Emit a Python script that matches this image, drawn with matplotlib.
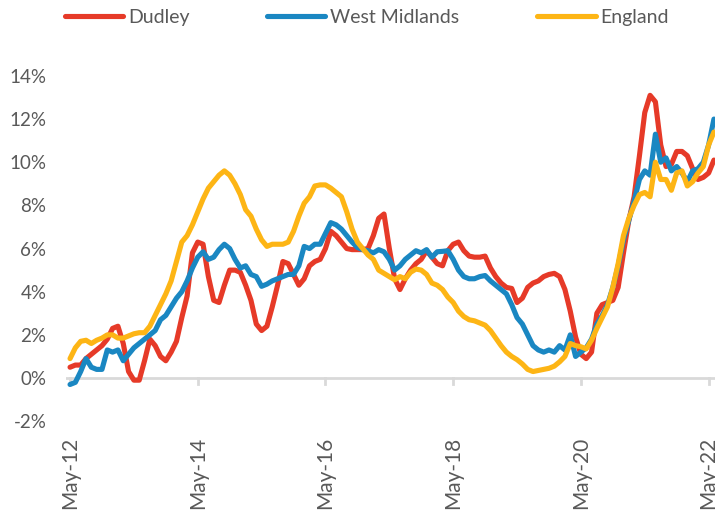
import matplotlib
matplotlib.use("Agg")
import matplotlib.pyplot as plt
import numpy as np

plt.rcParams['font.family'] = ['Lato', 'DejaVu Sans']

tick_labels = ["May-12", "May-14", "May-16", "May-18", "May-20", "May-22"]
series_names = ["Dudley", "West Midlands", "England"]

dudley = [0.5, 0.6, 0.6, 0.9, 1.1, 1.3, 1.5, 1.8, 2.3, 2.4,
          1.6, 0.3, -0.1, -0.1, 0.8, 1.8, 1.5, 1.0, 0.8, 1.2,
          1.7, 2.8, 3.8, 5.8, 6.3, 6.2, 4.7, 3.6, 3.5, 4.3,
          5.0, 5.0, 4.9, 4.3, 3.6, 2.5, 2.2, 2.4, 3.3, 4.3,
          5.4, 5.3, 4.8, 4.3, 4.6, 5.2, 5.4, 5.5, 6.0, 6.8,
          6.6, 6.3, 6.0, 5.95, 5.95, 5.95, 6.0, 6.6, 7.4, 7.6,
          6.0, 4.6, 4.1, 4.6, 5.0, 5.3, 5.5, 5.9, 5.6, 5.3,
          5.2, 5.9, 6.2, 6.3, 5.9, 5.65, 5.6, 5.6, 5.65, 5.1,
          4.7, 4.4, 4.2, 4.15, 3.5, 3.7, 4.2, 4.4, 4.5, 4.7,
          4.8, 4.85, 4.7, 4.1, 3.1, 1.9, 1.1, 0.9, 1.2, 3.0,
          3.4, 3.5, 3.6, 4.2, 5.8, 7.3, 8.4, 10.3, 12.3, 13.1,
          12.8, 10.8, 9.8, 9.9, 10.5, 10.5, 10.3, 9.7, 9.2, 9.3,
          9.5, 10.1]

west_midlands = [-0.3, -0.2, 0.3, 0.9, 0.5, 0.4, 0.4, 1.3, 1.2, 1.3,
                 0.8, 1.1, 1.4, 1.6, 1.8, 2.0, 2.2, 2.7, 2.9, 3.3,
                 3.7, 4.0, 4.5, 5.1, 5.6, 5.85, 5.5, 5.6, 5.95, 6.2,
                 6.0, 5.5, 5.1, 5.2, 4.8, 4.7, 4.25, 4.35, 4.5, 4.6,
                 4.7, 4.8, 4.8, 5.2, 6.1, 6.0, 6.2, 6.2, 6.7, 7.2,
                 7.1, 6.9, 6.6, 6.3, 6.05, 5.95, 5.9, 5.8, 5.95, 5.85,
                 5.5, 5.0, 5.2, 5.5, 5.7, 5.9, 5.8, 5.95, 5.6, 5.85,
                 5.87, 5.9, 5.5, 5.0, 4.7, 4.6, 4.6, 4.7, 4.75, 4.5,
                 4.3, 4.1, 3.9, 3.4, 2.8, 2.5, 2.0, 1.5, 1.3, 1.2,
                 1.3, 1.2, 1.5, 1.3, 2.0, 1.0, 1.2, 1.4, 1.8, 2.5,
                 2.9, 3.4, 4.2, 5.2, 6.4, 7.3, 8.2, 9.2, 9.6, 9.4,
                 11.3, 10.0, 10.2, 9.6, 9.8, 9.5, 9.1, 9.6, 9.7, 10.0,
                 10.8, 12.0]

england = [0.9, 1.4, 1.7, 1.75, 1.6, 1.75, 1.85, 2.0, 2.0, 1.85,
           1.85, 1.95, 2.05, 2.1, 2.1, 2.4, 2.9, 3.4, 3.9, 4.5,
           5.4, 6.3, 6.6, 7.1, 7.7, 8.3, 8.8, 9.1, 9.4, 9.6,
           9.4, 9.0, 8.5, 7.8, 7.5, 6.9, 6.4, 6.1, 6.2, 6.2,
           6.2, 6.3, 6.8, 7.5, 8.1, 8.4, 8.9, 8.95, 8.95, 8.8,
           8.6, 8.4, 7.7, 6.9, 6.3, 6.0, 5.7, 5.5, 5.0, 4.85,
           4.7, 4.55, 4.7, 4.6, 4.9, 5.05, 5.0, 4.8, 4.4, 4.3,
           4.1, 3.75, 3.5, 3.1, 2.85, 2.7, 2.65, 2.55, 2.45, 2.2,
           1.85, 1.5, 1.2, 1.0, 0.85, 0.65, 0.4, 0.3, 0.35, 0.4,
           0.45, 0.55, 0.75, 1.0, 1.6, 1.5, 1.45, 1.35, 1.75, 2.3,
           2.8, 3.3, 4.2, 5.3, 6.6, 7.4, 8.0, 8.5, 8.6, 8.4,
           10.0, 9.2, 9.2, 8.7, 9.5, 9.6, 8.9, 9.1, 9.5, 9.8,
           10.8, 11.4]

colors = ["#E63A28", "#1A87C2", "#FDB515"]
txt = "#595959"

fig = plt.figure(figsize=(7.15, 5.13), dpi=100)
ax = fig.add_axes([0.092, 0.179, 0.908, 0.673])

for data, name, c in zip([dudley, west_midlands, england], series_names, colors):
    ax.plot(np.arange(len(data)), data, color=c, lw=3.7, label=name,
            solid_joinstyle='round', solid_capstyle='round')

ax.set_xlim(-0.8, 121.2)
ax.set_ylim(-2, 14)
ax.set_yticks(np.arange(-2, 15, 2))
ax.set_yticklabels([f"{v}%" for v in range(-2, 15, 2)])
ax.set_xticks(np.arange(0, 121, 24))
ax.set_xticklabels(tick_labels, rotation=90)

for s in ['top', 'right', 'left', 'bottom']:
    ax.spines[s].set_visible(False)
ax.axhline(0, color="#D9D9D9", lw=2, zorder=0)
ax.tick_params(axis='y', length=0, labelsize=13.5, labelcolor=txt, pad=14)
ax.tick_params(axis='x', length=0, labelsize=15, labelcolor=txt, pad=11)
# tick marks hanging below the zero line
for t in np.arange(0, 121, 24):
    ax.plot([t, t], [0, -0.3], color="#D9D9D9", lw=2, zorder=0, clip_on=False)

fig.legend(loc='center', bbox_to_anchor=(0.513, 0.966), ncol=3, frameon=False,
           fontsize=14, handlelength=3.0, columnspacing=4.0, handletextpad=0.25,
           labelcolor=txt)

fig.savefig("out.png", dpi=100)
